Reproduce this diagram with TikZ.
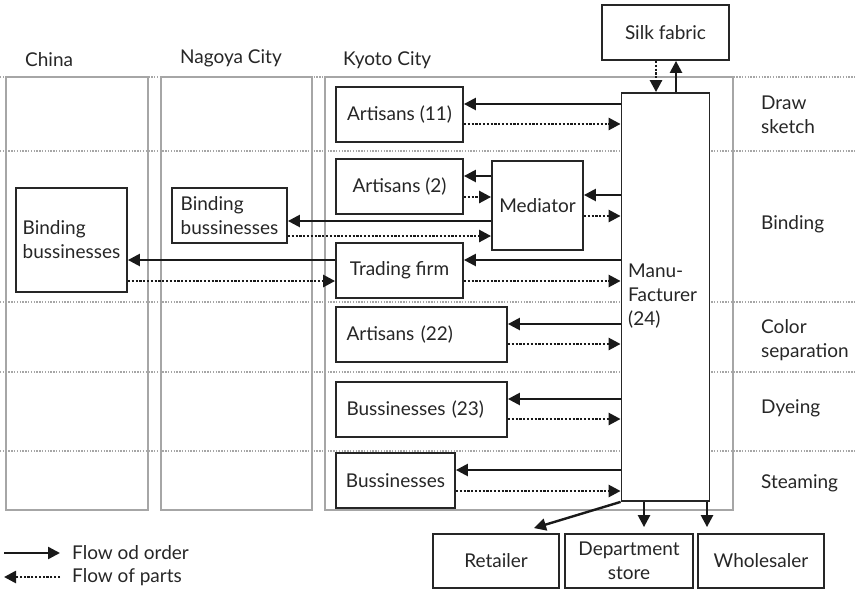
\documentclass[tikz,border=0pt]{standalone}
\usepackage{fontspec}
\setmainfont{Lato}
\usetikzlibrary{arrows.meta,calc}
\begin{document}
\begin{tikzpicture}[x=1pt,y=-1pt,
  font=\fontsize{19}{24}\selectfont,
  box/.style={draw=black!85, line width=1.8pt, fill=white, inner sep=0pt, align=center, text=black!85},
  txt/.style={inner sep=0pt, align=left, text=black!85, anchor=west},
  col/.style={draw=black!35, line width=1.8pt},
  grid/.style={draw=black!35, line width=1.2pt, dash pattern=on 1.4pt off 1.4pt},
  ord/.style={draw=black!90, line width=2.4pt, -{Triangle[length=12pt,width=12pt]}},
  prt/.style={draw=black!90, line width=2.6pt, dash pattern=on 2.2pt off 1.6pt, -{Triangle[length=12pt,width=12pt]}}
]
\useasboundingbox (0,0) rectangle (856,592);
% horizontal dotted separators
\foreach \yy in {77,151,302,372,451} \draw[grid] (0,\yy) -- (856,\yy);
% columns
\draw[col] (6,77) rectangle (148,510);
\draw[col] (161,77) rectangle (312,510);
\draw[col] (325,77) rectangle (733,510);
% column headers
\node[txt] (hchina) at (25,60) {China};
\node[txt] (hnagoya) at (180,58) {Nagoya City};
\node[txt] (hkyoto) at (343,60) {Kyoto City};
% row labels
\node[txt] (rdraw) at (761,115) {Draw\\sketch};
\node[txt] (rbind) at (761,224) {Binding};
\node[txt] (rcolor) at (761,340) {Color\\separation};
\node[txt] (rdye) at (761,408) {Dyeing};
\node[txt] (rsteam) at (761,483) {Steaming};
% nodes
\node[box, minimum width=127pt, minimum height=55pt] (silk) at (665.5,32.5) {Silk fabric};
\node[box, minimum width=88pt, minimum height=408pt] (manu) at (665.5,297) {};
\node[txt] (manutxt) at (628,296) {Manu-\\Facturer\\(24)};
\node[box, minimum width=127pt, minimum height=55pt] (a11) at (399.5,114.5) {Artisans (11)};
\node[box, minimum width=127pt, minimum height=55pt] (a2) at (399.5,186.5) {Artisans (2)};
\node[box, minimum width=91pt, minimum height=89pt] (med) at (537.5,205.5) {Mediator};
\node[box, minimum width=127pt, minimum height=55pt] (trade) at (399.5,270.5) {Trading firm};
\node[box, minimum width=115pt, minimum height=55pt, align=left] (nag) at (229.5,215.5) {Binding\\bussinesses};
\node[box, minimum width=111pt, minimum height=104pt, align=left] (chi) at (71.5,240) {Binding\\bussinesses};
\node[box, minimum width=171pt, minimum height=55pt, text width=150pt, align=left] (a22) at (421.5,334.5) {Artisans (22)};
\node[box, minimum width=171pt, minimum height=55pt, text width=150pt, align=left] (b23) at (421.5,409.5) {Bussinesses (23)};
\node[box, minimum width=119pt, minimum height=55pt] (bus) at (395.5,480.5) {Bussinesses};
\node[box, minimum width=126pt, minimum height=54pt] (ret) at (496,561) {Retailer};
\node[box, minimum width=128pt, minimum height=54pt] (dep) at (629,561) {Department\\store};
\node[box, minimum width=126pt, minimum height=54pt] (who) at (761,561) {Wholesaler};
% silk fabric arrows
\draw[prt] (silk.south -| 656,0) -- (manu.north -| 656,0);
\draw[ord] (manu.north -| 676,0) -- (silk.south -| 676,0);
% artisans 11
\draw[ord] (manu.west |- 0,104) -- (a11.east |- 0,104);
\draw[prt] (a11.east |- 0,124) -- (manu.west |- 0,124);
% mediator
\draw[ord] (med.west |- 0,176) -- (a2.east |- 0,176);
\draw[prt] (a2.east |- 0,197) -- (med.west |- 0,197);
\draw[ord] (manu.west |- 0,195) -- (med.east |- 0,195);
\draw[prt] (med.east |- 0,216) -- (manu.west |- 0,216);
\draw[ord] (med.west |- 0,221) -- (nag.east |- 0,221);
\draw[prt] (nag.east |- 0,236) -- (med.west |- 0,236);
% trading firm
\draw[ord] (manu.west |- 0,260) -- (trade.east |- 0,260);
\draw[prt] (trade.east |- 0,281) -- (manu.west |- 0,281);
\draw[ord] (trade.west |- 0,260) -- (chi.east |- 0,260);
\draw[prt] (chi.east |- 0,281) -- (trade.west |- 0,281);
% artisans 22, bussinesses 23, bussinesses
\draw[ord] (manu.west |- 0,324) -- (a22.east |- 0,324);
\draw[prt] (a22.east |- 0,344) -- (manu.west |- 0,344);
\draw[ord] (manu.west |- 0,399) -- (b23.east |- 0,399);
\draw[prt] (b23.east |- 0,419) -- (manu.west |- 0,419);
\draw[ord] (manu.west |- 0,470) -- (bus.east |- 0,470);
\draw[prt] (bus.east |- 0,491) -- (manu.west |- 0,491);
% outputs
\draw[ord] (manu.south west) -- ($(ret.north -| 534,0)+(0,-5)$);
\draw[ord, shorten >=6pt] (manu.south -| 644,0) -- (dep.north -| 644,0);
\draw[ord, shorten >=6pt] (manu.south -| 707,0) -- (who.north -| 707,0);
% legend
\coordinate (l1a) at (4,553);
\coordinate (l1b) at (60,553);
\coordinate (l2a) at (60,577);
\coordinate (l2b) at (4,577);
\draw[ord] (l1a) -- (l1b);
\draw[prt] (l2a) -- (l2b);
\node[txt] (leg1) at (72,553) {Flow od order};
\node[txt] (leg2) at (72,577) {Flow of parts};
\end{tikzpicture}
\end{document}
